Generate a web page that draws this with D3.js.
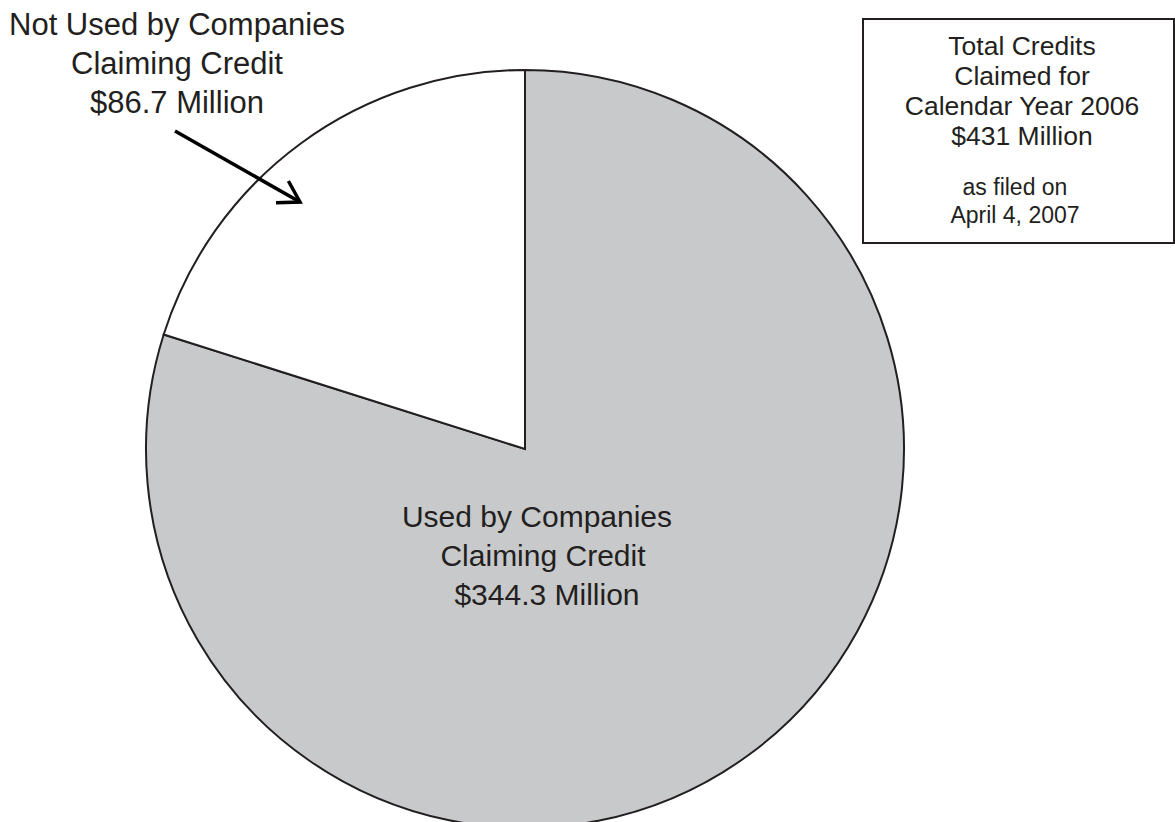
<!DOCTYPE html>
<html>
<head>
<meta charset="utf-8">
<script src="https://cdn.jsdelivr.net/npm/d3@7"></script>
<style>
    body { margin: 0; background: #fff; }
    text { font-family: "Liberation Sans", Arial, sans-serif; fill: #231f20; }
</style>
</head>
<body>
<svg id="chart" width="1175" height="822"></svg>
<script>
// slice data, in drawing order (clockwise from 12 o'clock)
const categories = ["Used by Companies Claiming Credit", "Not Used by Companies Claiming Credit"];
const values = [344.3, 86.7];
const fills = ["#c8c9cb", "#ffffff"];

const usedLabel = ["Used by Companies", "Claiming Credit", "$344.3 Million"];
const notUsedLabel = ["Not Used by Companies", "Claiming Credit", "$86.7 Million"];
const boxLines = ["Total Credits", "Claimed for", "Calendar Year 2006", "$431 Million"];
const boxNote = ["as filed on", "April 4, 2007"];

const svg = d3.select("#chart");

const cx = 525, cy = 449, radius = 379;

let pie = d3.pie()
    .sort(null)
    .value(d => d.value);

let arc = d3.arc()
    .innerRadius(0)
    .outerRadius(radius);

let slices = categories.map((c, i) => ({name: c, value: values[i], fill: fills[i]}));

let pieGroup = svg.append('g')
    .attr('class', 'pie')
    .attr('transform', "translate(" + cx + "," + cy + ")");

pieGroup.selectAll('path')
    .data(pie(slices))
    .enter()
    .append('path')
    .attr('d', arc)
    .attr('fill', d => d.data.fill)
    .attr('stroke', "#231f20")
    .attr('stroke-width', 2)
    .attr('stroke-linejoin', 'miter');

// label inside the grey slice
let usedX = [537, 543, 547];
svg.append('g')
    .selectAll('text')
    .data(usedLabel)
    .enter()
    .append('text')
    .text(d => d)
    .attr('x', (d, i) => usedX[i])
    .attr('y', (d, i) => 527 + i * 39)
    .attr('text-anchor', 'middle')
    .style('font-size', '30px');

// label for the white slice, top left
svg.append('g')
    .selectAll('text')
    .data(notUsedLabel)
    .enter()
    .append('text')
    .text(d => d)
    .attr('x', 177)
    .attr('y', (d, i) => 35 + i * 39)
    .attr('text-anchor', 'middle')
    .style('font-size', '31px');

// arrow pointing into the white slice
let from = [175, 131], to = [300, 202];
let ang = Math.atan2(to[1] - from[1], to[0] - from[0]);
let headLen = 24, spread = 0.55;
svg.append('line')
    .attr('x1', from[0]).attr('y1', from[1])
    .attr('x2', to[0]).attr('y2', to[1])
    .attr('stroke', "#000")
    .attr('stroke-width', 3.5);
svg.append('path')
    .attr('d', d3.line()([
        [to[0] - headLen * Math.cos(ang - spread), to[1] - headLen * Math.sin(ang - spread)],
        to,
        [to[0] - headLen * Math.cos(ang + spread), to[1] - headLen * Math.sin(ang + spread)]
    ]))
    .attr('fill', "none")
    .attr('stroke', "#000")
    .attr('stroke-width', 3.5);

// summary box
let box = svg.append('g').attr('class', 'summary');
box.append('rect')
    .attr('x', 863)
    .attr('y', 19)
    .attr('width', 311)
    .attr('height', 224)
    .attr('fill', "#fff")
    .attr('stroke', "#231f20")
    .attr('stroke-width', 2);

box.selectAll('.main')
    .data(boxLines)
    .enter()
    .append('text')
    .attr('class', 'main')
    .text(d => d)
    .attr('x', 1022)
    .attr('y', (d, i) => 55 + i * 30)
    .attr('text-anchor', 'middle')
    .style('font-size', '26.5px');

box.selectAll('.note')
    .data(boxNote)
    .enter()
    .append('text')
    .attr('class', 'note')
    .text(d => d)
    .attr('x', 1015)
    .attr('y', (d, i) => 195 + i * 28)
    .attr('text-anchor', 'middle')
    .style('font-size', '23px');
</script>
</body>
</html>
